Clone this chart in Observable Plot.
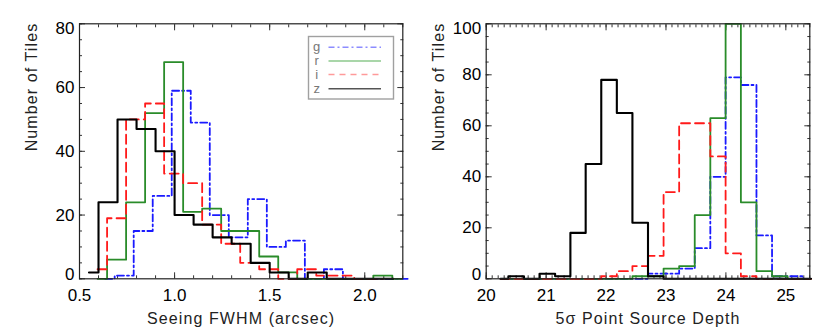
<!DOCTYPE html>
<html>
<head>
<meta charset="utf-8">
<script src="https://cdn.jsdelivr.net/npm/d3@7"></script>
<script src="https://cdn.jsdelivr.net/npm/@observablehq/plot@0.6"></script>
<style>
  body { margin: 0; background: #fff; }
  #wrap { position: relative; width: 830px; height: 332px; overflow: hidden; background: #fff;
          font-family: "Liberation Sans", Arial, Helvetica, sans-serif; }
  .panel { position: absolute; top: 0; }
  g[aria-label="text"] text { letter-spacing: 1.1px; }
  #legend { position: absolute; left: 0; top: 0; pointer-events: none; }
</style>
</head>
<body>
<div id="wrap"></div>
<script>
// ---------------- data ----------------
// Left panel: seeing FWHM histograms (bin centres, counts)
const seeingTicks = [0.5, 1.0, 1.5, 2.0];
const seeingCountTicks = [0, 20, 40, 60, 80];

const gSeeingX = [0.635, 0.735, 0.835, 0.935, 1.035, 1.135, 1.235, 1.335, 1.435, 1.535, 1.635, 1.735, 1.835, 1.935, 2.035, 2.135, 2.235];
const gSeeingY = [0, 1, 15, 26, 59, 49, 20, 13, 25, 10, 12, 0, 3, 0, 0, 0, 0];

const rSeeingX = [0.595, 0.695, 0.795, 0.895, 0.995, 1.095, 1.195, 1.295, 1.395, 1.495, 1.595, 1.695, 1.795, 1.895, 1.995, 2.095, 2.195];
const rSeeingY = [0, 6, 24, 52, 68, 21, 22, 15, 15, 7, 2, 0, 0, 0, 0, 1, 0];

const iSeeingX = [0.595, 0.695, 0.795, 0.895, 0.995, 1.095, 1.195, 1.295, 1.395, 1.495, 1.595, 1.695, 1.795, 1.895, 1.995, 2.095];
const iSeeingY = [3, 19, 50, 55, 33, 30, 17, 11, 5, 3, 0, 3, 1, 1, 0, 0];

const zSeeingX = [0.55, 0.65, 0.75, 0.85, 0.95, 1.05, 1.15, 1.25, 1.35, 1.45, 1.55, 1.65, 1.75, 1.85, 1.95, 2.05, 2.15];
const zSeeingY = [2, 24, 50, 47, 40, 20, 17, 13, 11, 5, 2, 0, 2, 0, 0, 0, 0];

// Right panel: 5-sigma point source depth histograms (shared bin centres)
const depthTicks = [20, 21, 22, 23, 24, 25];
const depthCountTicks = [0, 20, 40, 60, 80, 100];
const depthX = [20.24, 20.50, 20.76, 21.02, 21.28, 21.53, 21.79, 22.05, 22.31, 22.57, 22.83,
                23.09, 23.35, 23.61, 23.87, 24.12, 24.38, 24.64, 24.90, 25.16, 25.42];
const gDepthY = [0, 0, 0, 0, 0, 0, 0, 0, 0, 0, 2, 2, 4, 12, 40, 79, 76, 17, 1, 1, 0];
const rDepthY = [0, 0, 0, 0, 0, 0, 0, 0, 0, 1, 1, 4, 5, 25, 63, 100, 30, 3, 1, 0, 0];
const iDepthY = [0, 0, 0, 0, 0, 0, 0, 1, 3, 5, 9, 34, 61, 61, 48, 10, 1, 0, 0, 0, 0];
const zDepthY = [0, 1, 0, 2, 1, 18, 45, 78, 65, 22, 1, 0, 0, 0, 0, 0, 0, 0, 0, 0, 0];

const bandNames = ["g", "r", "i", "z"];
const bandColors = {g: "#1a1aff", r: "#2a8c2a", i: "#ff1a1a", z: "#000000"};
const bandDash = {g: "7,3,2,3", r: null, i: "9,5", z: null};
const bandWidth = {g: 1.8, r: 1.8, i: 1.8, z: 2.1};
const legendColors = {g: "#8c8cff", r: "#8cc88c", i: "#ff9a9a", z: "#555555"};

// ---------------- drawing ----------------
function toRows(xs, ys) { return xs.map((x, i) => ({x, y: ys[i]})); }

function histPanel(cfg) {
  const tickStroke = "#333";
  const marks = [];
  for (const a of ["bottom", "top"]) {
    marks.push(Plot.axisX({anchor: a, ticks: cfg.xTicks, tickSize: -6, fill: "none", label: null, stroke: tickStroke}));
    marks.push(Plot.axisX({anchor: a, ticks: cfg.xMinor, tickSize: -3, fill: "none", label: null, stroke: tickStroke}));
  }
  for (const a of ["left", "right"]) {
    marks.push(Plot.axisY({anchor: a, ticks: cfg.yTicks, tickSize: -6, fill: "none", label: null, stroke: tickStroke}));
    marks.push(Plot.axisY({anchor: a, ticks: cfg.yMinor, tickSize: -3, fill: "none", label: null, stroke: tickStroke}));
  }
  marks.push(Plot.axisX({anchor: "bottom", ticks: cfg.xTicks, tickSize: 0, tickPadding: 10,
    tickFormat: cfg.xFormat, label: null, fontSize: 17, fill: "#000"}));
  const yt = cfg.yTicks;
  marks.push(Plot.axisY({anchor: "left", ticks: yt.slice(1, -1), tickSize: 0, tickPadding: 5, label: null, fontSize: 17, fill: "#000"}));
  marks.push(Plot.axisY({anchor: "left", ticks: [yt[0]], tickSize: 0, tickPadding: 5, label: null, fontSize: 17, fill: "#000", dy: -4.5}));
  marks.push(Plot.axisY({anchor: "left", ticks: [yt[yt.length - 1]], tickSize: 0, tickPadding: 5, label: null, fontSize: 17, fill: "#000", dy: 4.5}));
  for (const s of cfg.series) {
    marks.push(Plot.line(toRows(s.x, s.y), {
      x: "x", y: "y", curve: "step",
      stroke: bandColors[s.band], strokeWidth: bandWidth[s.band],
      strokeDasharray: bandDash[s.band]
    }));
  }
  marks.push(Plot.frame({stroke: "#222", strokeWidth: 1.2}));
  marks.push(Plot.text([cfg.xTitle], {text: d => d, frameAnchor: "bottom", lineAnchor: "bottom", dy: 44.7, fontSize: 16, fill: "#222"}));
  marks.push(Plot.text([cfg.yTitle], {text: d => d, frameAnchor: "left", rotate: -90, dx: -47.3, fontSize: 16, fill: "#222"}));
  return Plot.plot({
    width: 415, height: 332,
    marginLeft: cfg.ml, marginRight: cfg.mr, marginTop: 23.3, marginBottom: 53.7,
    x: {domain: cfg.xDomain},
    y: {domain: cfg.yDomain},
    style: {fontFamily: '"Liberation Sans", Arial, Helvetica, sans-serif', background: "transparent", overflow: "visible"},
    marks
  });
}

const wrap = document.getElementById("wrap");

const left = histPanel({
  xDomain: [0.5, 2.2], yDomain: [0, 80],
  xTicks: seeingTicks, xMinor: d3.range(5, 23).map(d => d / 10),
  yTicks: seeingCountTicks, yMinor: d3.range(0, 81, 5),
  xFormat: d3.format(".1f"),
  xTitle: "Seeing FWHM (arcsec)", yTitle: "Number of Tiles",
  ml: 79, mr: 12.7,
  series: [
    {band: "g", x: gSeeingX, y: gSeeingY},
    {band: "r", x: rSeeingX, y: rSeeingY},
    {band: "i", x: iSeeingX, y: iSeeingY},
    {band: "z", x: zSeeingX, y: zSeeingY}
  ]
});
left.classList.add("panel");
left.style.left = "0px";
wrap.appendChild(left);

const right = histPanel({
  xDomain: [20, 25.4], yDomain: [0, 100],
  xTicks: depthTicks, xMinor: d3.range(200, 255).map(d => d / 10),
  yTicks: depthCountTicks, yMinor: d3.range(0, 101, 5),
  xFormat: d3.format("d"),
  xTitle: "5σ Point Source Depth", yTitle: "Number of Tiles",
  ml: 70.7, mr: 20.7,
  series: [
    {band: "g", x: depthX, y: gDepthY},
    {band: "r", x: depthX, y: rDepthY},
    {band: "i", x: depthX, y: iDepthY},
    {band: "z", x: depthX, y: zDepthY}
  ]
});
right.classList.add("panel");
right.style.left = "415px";
wrap.appendChild(right);

// legend box (left panel, upper right)
const lg = d3.select(wrap).append("svg").attr("id", "legend").attr("width", 830).attr("height", 332);
const box = {x: 308.5, y: 36.5, w: 85, h: 62.5};
lg.append("rect").attr("x", box.x).attr("y", box.y).attr("width", box.w).attr("height", box.h)
  .attr("fill", "none").attr("stroke", "#a0a0a0").attr("stroke-width", 1.4);
const rowY = [47.3, 61, 74.5, 88.7];
bandNames.forEach((b, k) => {
  lg.append("text").attr("x", 316.7).attr("y", rowY[k]).attr("dy", "0.32em")
    .attr("text-anchor", "middle").attr("fill", "#777").attr("font-size", 13)
    .attr("font-family", '"Liberation Sans", Arial, sans-serif').text(b);
  lg.append("line").attr("x1", 328.5).attr("x2", 381).attr("y1", rowY[k]).attr("y2", rowY[k])
    .attr("stroke", legendColors[b]).attr("stroke-width", 1.4)
    .attr("stroke-dasharray", b === "g" ? "6,3,2,3" : b === "i" ? "6,5" : null);
});
</script>
</body>
</html>
